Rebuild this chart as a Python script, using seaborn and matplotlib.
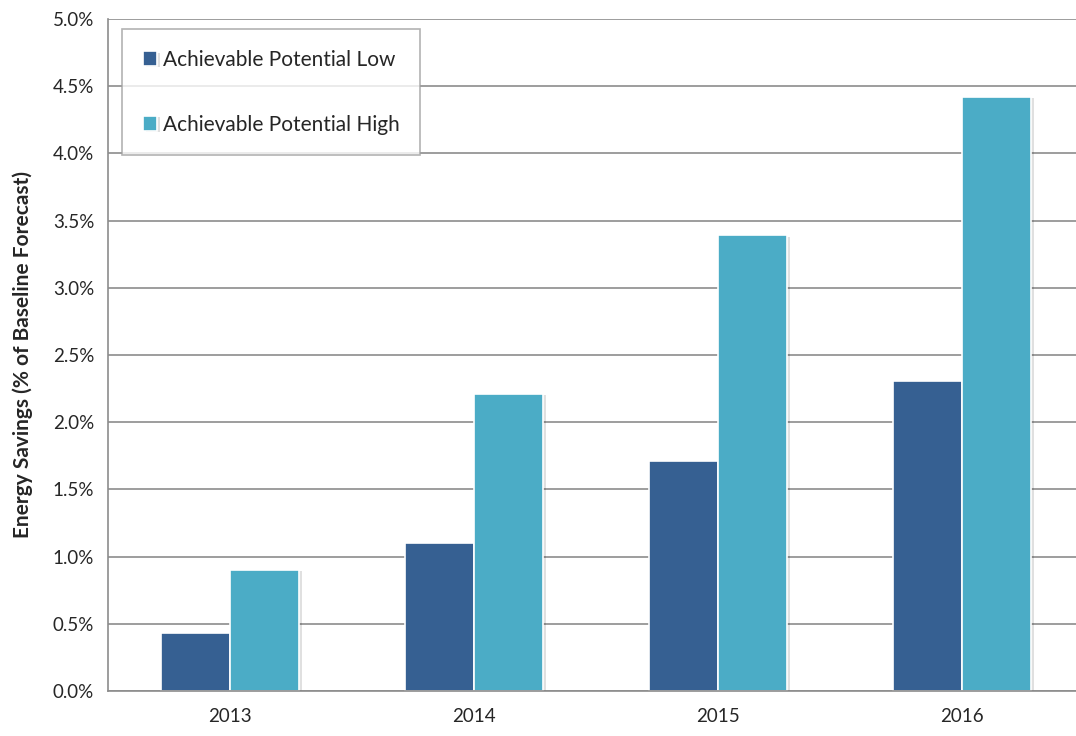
import pandas as pd
import seaborn as sns
import matplotlib.pyplot as plt
import matplotlib.patheffects as pe
from matplotlib.ticker import FuncFormatter, FixedLocator

# data
years = ['2013', '2014', '2015', '2016']
low = [0.43, 1.10, 1.71, 2.31]
high = [0.90, 2.21, 3.39, 4.42]
series = ['Achievable Potential Low', 'Achievable Potential High']
colors = ['#366092', '#4BACC6']

df = pd.DataFrame({
    'Year': years * 2,
    'Savings': low + high,
    'Series': [series[0]] * 4 + [series[1]] * 4,
})

sns.set_style('white')
plt.rcParams['font.family'] = ['Lato', 'DejaVu Sans']

fig = plt.figure(figsize=(10.76, 7.36), dpi=100)
# plot area runs off the right side of the picture, like the source
ax = fig.add_axes([108 / 1076, 45 / 736, 976 / 1076, 672 / 736])

sns.barplot(data=df, x='Year', y='Savings', hue='Series', palette=colors,
            saturation=1, width=0.565, edgecolor='white', linewidth=1.2, ax=ax)

for bar in ax.patches:
    bar.set_path_effects([pe.SimplePatchShadow(offset=(2, -1), shadow_rgbFace='#000000', alpha=0.12),
                          pe.Normal()])

ax.set_xlim(-0.5, 3.5)
ax.set_ylim(0, 5.0)
ax.set_yticks([i * 0.5 for i in range(11)])
ax.yaxis.set_major_formatter(FuncFormatter(lambda v, p: f'{v:.1f}%'))
ax.yaxis.grid(True, color='#8c8c8c', linewidth=1.2)
ax.set_axisbelow(True)

ax.xaxis.set_minor_locator(FixedLocator([-0.5, 0.5, 1.5, 2.5, 3.5]))
ax.tick_params(axis='x', which='major', length=0, labelsize=13.5, pad=12)
ax.tick_params(axis='x', which='minor', length=5, width=1.2, color='#8c8c8c', direction='out')
ax.tick_params(axis='y', length=6, width=1.2, color='#8c8c8c', direction='out', labelsize=13.5, pad=4)

for s in ['top', 'right']:
    ax.spines[s].set_visible(False)
for s in ['left', 'bottom']:
    ax.spines[s].set_color('#8c8c8c')
    ax.spines[s].set_linewidth(1.2)

ax.set_xlabel('')
ax.set_ylabel('Energy Savings (% of Baseline Forecast)', fontsize=15, fontweight='bold', labelpad=14)

leg = ax.legend(loc='upper left', bbox_to_anchor=(14 / 976, 1 - 10 / 672), frameon=True,
                fancybox=False, edgecolor='#a0a0a0', fontsize=15, labelspacing=2.15,
                handlelength=0.7, handleheight=0.7, handletextpad=0.25,
                borderpad=1.0, borderaxespad=0)
leg.get_frame().set_linewidth(1.2)
for h in leg.legend_handles:
    h.set_edgecolor('white')

fig.savefig('out.png', dpi=100)
